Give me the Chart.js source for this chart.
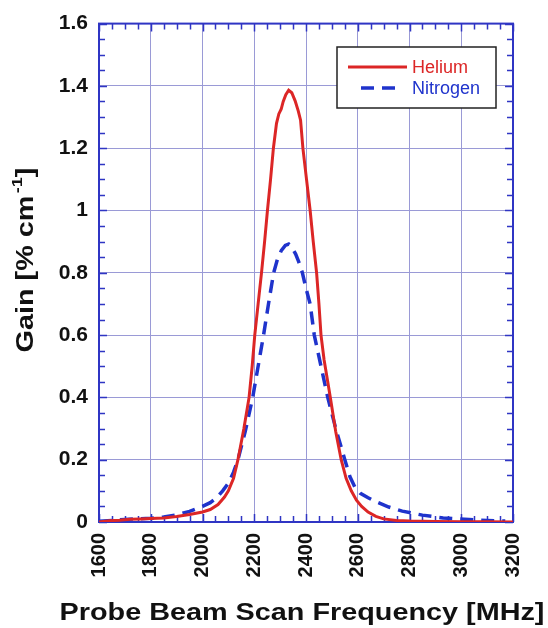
<!DOCTYPE html>
<html>
<head>
<meta charset="utf-8">
<title>Probe beam gain</title>
<script src="https://cdn.jsdelivr.net/npm/chart.js@4.4.1/dist/chart.umd.min.js"></script>
<style>
  html, body { margin: 0; padding: 0; background: #fff; }
  #wrap { width: 548px; height: 628px; }
</style>
</head>
<body>
<div id="wrap"><canvas id="chart-gain" width="548" height="628"></canvas></div>
<script>
// gain spectra vs probe frequency (MHz, % per cm)
const heliumFreq = [1600, 1640, 1680, 1720, 1760, 1800, 1850, 1900, 1950, 2000, 2030, 2060, 2085, 2100, 2120, 2137,
  2160, 2180, 2192, 2202, 2215, 2228, 2240, 2251, 2263, 2274, 2286, 2295, 2304, 2312, 2322, 2333, 2345, 2358, 2370,
  2379, 2388, 2402, 2416, 2428, 2441, 2450, 2458, 2470, 2484, 2494, 2515, 2536, 2555, 2575, 2595, 2615, 2640, 2670,
  2700, 2750, 2800, 2900, 3000, 3100, 3200]
const heliumGain = [0.000, 0.004, 0.006, 0.009, 0.010, 0.011, 0.013, 0.018, 0.024, 0.032, 0.040, 0.056, 0.080, 0.100,
  0.140, 0.200, 0.300, 0.400, 0.500, 0.600, 0.700, 0.800, 0.900, 1.000, 1.100, 1.200, 1.280, 1.310, 1.325, 1.350,
  1.372, 1.386, 1.378, 1.352, 1.320, 1.290, 1.200, 1.100, 1.000, 0.900, 0.800, 0.700, 0.600, 0.520, 0.450, 0.400,
  0.290, 0.200, 0.140, 0.100, 0.070, 0.050, 0.032, 0.018, 0.010, 0.005, 0.003, 0.002, 0.001, 0.001, 0.000]

const nitrogenFreq = [1600, 1650, 1700, 1750, 1800, 1850, 1900, 1950, 2000, 2030, 2055, 2078, 2100, 2120, 2137, 2165,
  2194, 2215, 2236, 2255, 2275, 2290, 2305, 2320, 2333, 2345, 2360, 2372, 2386, 2400, 2416, 2432, 2458, 2484, 2515,
  2550, 2570, 2590, 2610, 2640, 2668, 2720, 2772, 2850, 2930, 3030, 3100, 3170]
const nitrogenGain = [0.002, 0.005, 0.008, 0.010, 0.012, 0.016, 0.023, 0.034, 0.050, 0.062, 0.078, 0.100, 0.125,
  0.160, 0.200, 0.290, 0.400, 0.500, 0.600, 0.700, 0.800, 0.845, 0.872, 0.888, 0.892, 0.882, 0.860, 0.835, 0.800,
  0.750, 0.700, 0.600, 0.500, 0.400, 0.300, 0.200, 0.145, 0.110, 0.092, 0.078, 0.066, 0.048, 0.035, 0.022, 0.013,
  0.008, 0.005, 0.003]

const freqTicks = [1600, 1800, 2000, 2200, 2400, 2600, 2800, 3000, 3200]
const gainTicks = [0, 0.2, 0.4, 0.6, 0.8, 1, 1.2, 1.4, 1.6]
const freqMinorStep = 50
const gainMinorStep = 0.05

const xTitle = "Probe Beam Scan Frequency [MHz]"
const yTitle = ["Gain [% cm", "-1", "]"]

const FONT = "'Liberation Sans', Arial, Helvetica, sans-serif"
const FRAME_COLOR = "#2f35c4"
const GRID_COLOR = "#9a9ad6"
const RED = "#dc2626"
const BLUE = "#1f33cc"

const toPoints = (xs, ys) => xs.map((x, i) => ({ x, y: ys[i] }))

// box, inward tick marks on all four sides
const framePlugin = {
  id: "frame",
  beforeDatasetsDraw(chart) {
    const { ctx, chartArea: a, scales } = chart
    const x = scales.x
    const y = scales.y
    ctx.save()
    ctx.strokeStyle = FRAME_COLOR
    ctx.lineWidth = 1.5
    ctx.beginPath()
    for (let v = x.min; v <= x.max + 1e-6; v += freqMinorStep) {
      const px = Math.round(x.getPixelForValue(v)) + 0.5
      const len = v % 200 === 0 ? 8 : 6
      ctx.moveTo(px, a.bottom); ctx.lineTo(px, a.bottom - len)
      ctx.moveTo(px, a.top); ctx.lineTo(px, a.top + len)
    }
    const n = Math.round((y.max - y.min) / gainMinorStep)
    for (let i = 0; i <= n; i++) {
      const py = Math.round(y.getPixelForValue(y.min + i * gainMinorStep)) + 0.5
      const len = i % 4 === 0 ? 8 : 6
      ctx.moveTo(a.left, py); ctx.lineTo(a.left + len, py)
      ctx.moveTo(a.right, py); ctx.lineTo(a.right - len, py)
    }
    ctx.stroke()
    ctx.lineWidth = 2
    ctx.strokeRect(a.left, a.top, a.right - a.left, a.bottom - a.top)
    ctx.restore()
  },
}

// axis titles, drawn slightly widened like the original figure
const titlesPlugin = {
  id: "titles",
  afterDraw(chart) {
    const { ctx } = chart
    ctx.save()
    ctx.fillStyle = "#111"
    ctx.textBaseline = "alphabetic"

    ctx.font = `bold 24px ${FONT}`
    ctx.textAlign = "center"
    ctx.save()
    ctx.translate(302, 620)
    ctx.scale(1.2, 1)
    ctx.fillText(xTitle, 0, 0)
    ctx.restore()

    ctx.textAlign = "left"
    ctx.save()
    ctx.translate(33, 260)
    ctx.rotate(-Math.PI / 2)
    ctx.scale(1.2, 1)
    const bigFont = `bold 24px ${FONT}`
    const supFont = `bold 15px ${FONT}`
    ctx.font = bigFont
    const w1 = ctx.measureText(yTitle[0]).width
    const w3 = ctx.measureText(yTitle[2]).width
    ctx.font = supFont
    const w2 = ctx.measureText(yTitle[1]).width
    let cx = -(w1 + 2 + w2 + w3) / 2
    ctx.font = bigFont
    ctx.fillText(yTitle[0], cx, 0)
    cx += w1 + 2
    ctx.font = supFont
    ctx.fillText(yTitle[1], cx, -11)
    cx += w2
    ctx.font = bigFont
    ctx.fillText(yTitle[2], cx, 0)
    ctx.restore()
    ctx.restore()
  },
}

// legend box in the upper right corner
const legendPlugin = {
  id: "legendBox",
  afterDraw(chart) {
    const { ctx } = chart
    ctx.save()
    ctx.fillStyle = "#fff"
    ctx.fillRect(337, 47, 159, 61)
    ctx.strokeStyle = "#222"
    ctx.lineWidth = 1.5
    ctx.strokeRect(337, 47, 159, 61)
    ctx.font = `18px ${FONT}`
    ctx.textBaseline = "middle"
    ctx.textAlign = "left"
    const rows = [
      { y: 67, x0: 348, x1: 407 },
      { y: 88, x0: 361, x1: 402 },
    ]
    chart.data.datasets.forEach((ds, i) => {
      const r = rows[i]
      ctx.strokeStyle = ds.borderColor
      ctx.lineWidth = ds.borderWidth
      ctx.setLineDash(ds.borderDash || [])
      ctx.beginPath()
      ctx.moveTo(r.x0, r.y)
      ctx.lineTo(r.x1, r.y)
      ctx.stroke()
      ctx.setLineDash([])
      ctx.fillStyle = ds.borderColor
      ctx.fillText(ds.label, 412, r.y + 1)
    })
    ctx.restore()
  },
}

const canvas = document.getElementById("chart-gain")

new Chart(canvas, {
  type: "line",
  data: {
    datasets: [
      {
        label: "Helium",
        data: toPoints(heliumFreq, heliumGain),
        borderColor: RED,
        borderWidth: 3,
        pointRadius: 0,
        tension: 0,
      },
      {
        label: "Nitrogen",
        data: toPoints(nitrogenFreq, nitrogenGain),
        borderColor: BLUE,
        borderWidth: 3.5,
        borderDash: [13, 8],
        pointRadius: 0,
        tension: 0,
      },
    ],
  },
  options: {
    responsive: false,
    animation: false,
    devicePixelRatio: 1,
    layout: { padding: { top: 16, right: 21, left: 0, bottom: 0 } },
    plugins: {
      legend: { display: false },
      tooltip: { enabled: false },
    },
    scales: {
      x: {
        type: "linear",
        min: 1600,
        max: 3200,
        afterBuildTicks: (s) => { s.ticks = freqTicks.map((value) => ({ value })) },
        afterFit: (s) => { s.height = 106 },
        grid: { color: GRID_COLOR, lineWidth: 1, drawTicks: false },
        border: { display: false },
        ticks: {
          autoSkip: false,
          minRotation: 90,
          maxRotation: 90,
          padding: 11,
          color: "#111",
          font: { family: FONT, size: 20, weight: "bold" },
          callback: (v) => String(v),
        },
      },
      y: {
        min: 0,
        max: 1.6,
        afterBuildTicks: (s) => { s.ticks = gainTicks.map((value) => ({ value })) },
        afterFit: (s) => { s.width = 99 },
        grid: { color: GRID_COLOR, lineWidth: 1, drawTicks: false },
        border: { display: false },
        ticks: {
          padding: 11,
          color: "#111",
          font: { family: FONT, size: 21, weight: "bold" },
          callback: (v) => String(+v.toFixed(1)),
        },
      },
    },
  },
  plugins: [framePlugin, titlesPlugin, legendPlugin],
})
</script>
</body>
</html>
